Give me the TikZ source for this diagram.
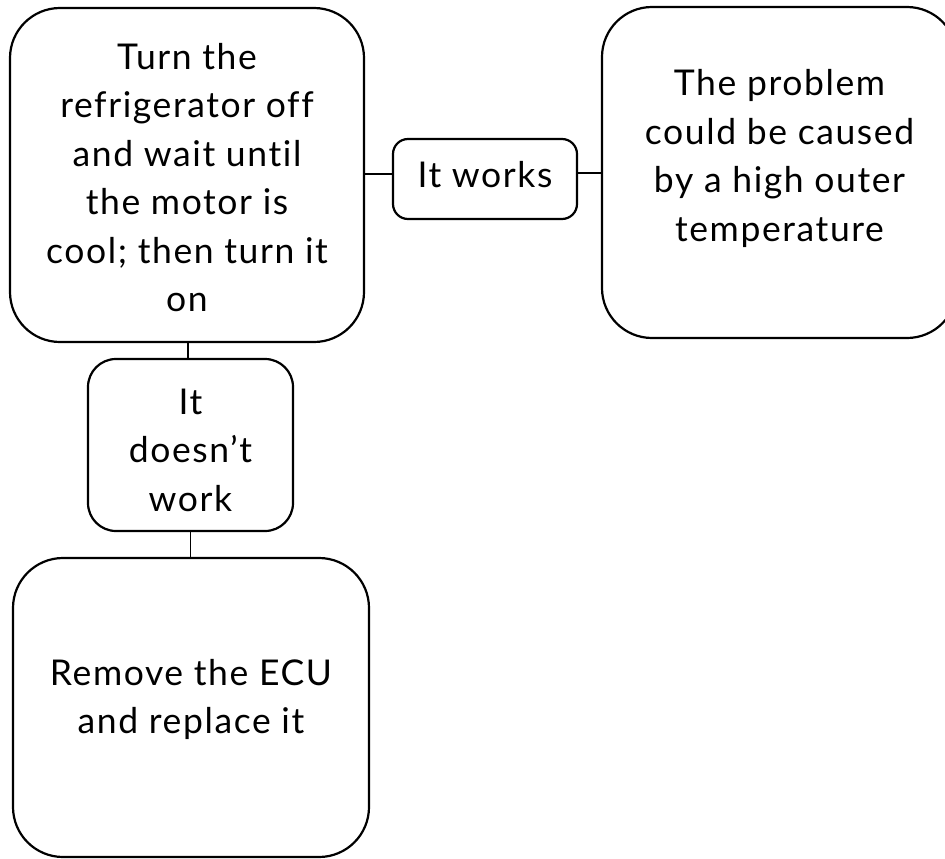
\documentclass[tikz,border=0pt]{standalone}
\usepackage{fontspec}
\setmainfont{Lato}[Ligatures={NoCommon}, LetterSpace=4.5]
\begin{document}
\begin{tikzpicture}[x=1pt,y=-1pt,
  box/.style={draw=black, line width=2.2pt, fill=white, inner sep=0pt},
  txt/.style={font=\fontsize{35.5}{48.5}\selectfont, align=center, text=black},
  conn/.style={draw=black, line width=1.2pt}]
\useasboundingbox (0,0) rectangle (945,859);
\clip (0,0) rectangle (945,859);
\fill[white] (0,0) rectangle (945,859);
% boxes
\node[box, rounded corners=50pt, minimum width=354pt, minimum height=334pt,
  label={[txt, yshift=-2.5pt]center:Turn the\\refrigerator off\\and wait until\\the motor is\\cool; then turn it\\on}] (A) at (187,175) {};
\node[box, rounded corners=15pt, minimum width=184pt, minimum height=80pt,
  label={[txt, yshift=4.5pt]center:It works}] (E) at (485,179) {};
\node[box, rounded corners=50pt, minimum width=355pt, minimum height=331pt,
  label={[txt, yshift=14pt]center:The problem\\could be caused\\by a high outer\\temperature}] (B) at (779.5,172.5) {};
\node[box, rounded corners=28pt, minimum width=205pt, minimum height=172pt,
  label={[txt, yshift=-5pt]center:It\\doesn’t\\work}] (D) at (190.5,445) {};
\node[box, rounded corners=50pt, minimum width=356pt, minimum height=299pt,
  label={[txt, yshift=8pt]center:Remove the ECU\\and replace it}] (C) at (191,707.5) {};
% connectors
\draw[conn] ([yshift=5pt]E.west) -- ([yshift=5pt]E.west -| A.east);
\draw[conn] ([yshift=6pt]E.east) -- ([yshift=6pt]E.east -| B.west);
\draw[conn] ([xshift=-2.5pt]D.north) -- ([xshift=-2.5pt]D.north |- A.south);
\draw[conn] (D.south) -- (D.south |- C.north);
\end{tikzpicture}
\end{document}
